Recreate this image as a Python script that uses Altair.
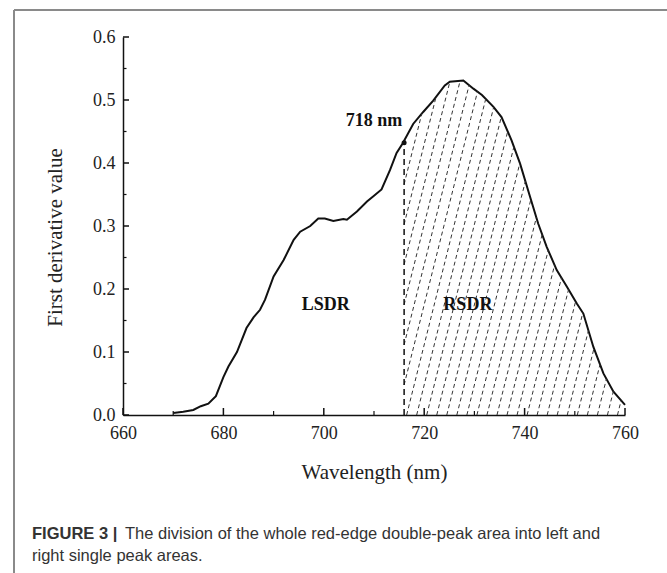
import altair as alt
import numpy as np
import pandas as pd

# ---- data ----
wavelength = [670, 672, 674, 675.5, 677, 678.5, 680, 681, 682.7, 684.6, 686, 687.3, 688.3,
              690, 692, 694, 695.3, 697.3, 698.9, 700.2, 701.9, 703.9, 704.6, 706.6, 708.6,
              710, 711.5, 713.2, 714.5, 715.7, 717.8, 719.8, 721.8, 724.1, 725.1, 727.8,
              729.8, 731.5, 733.8, 735.4, 737.4, 739.1, 741.1, 742.7, 744.4, 746.4, 748.4,
              750.4, 751.7, 753.7, 755.7, 757.7, 760]
derivative = [0.003, 0.005, 0.008, 0.014, 0.018, 0.030, 0.060, 0.077, 0.100, 0.138, 0.155, 0.167, 0.183,
              0.220, 0.246, 0.278, 0.291, 0.300, 0.312, 0.312, 0.308, 0.311, 0.310, 0.323, 0.339,
              0.348, 0.358, 0.389, 0.416, 0.431, 0.462, 0.481, 0.499, 0.523, 0.529, 0.531,
              0.518, 0.508, 0.489, 0.473, 0.436, 0.399, 0.346, 0.304, 0.267, 0.230, 0.204,
              0.177, 0.161, 0.108, 0.066, 0.037, 0.016]

split_nm = 716.0
split_val = 0.432
x_ticks = [660, 680, 700, 720, 740, 760]
x_minor = [670, 690, 710, 730, 750]
y_ticks = [0.0, 0.1, 0.2, 0.3, 0.4, 0.5, 0.6]
y_minor = [0.05, 0.15, 0.25, 0.35, 0.45, 0.55]
labels_txt = ["LSDR", "RSDR"]
labels_x = [700.4, 728.7]
labels_y = [0.175, 0.175]

W, H = 502, 378
PAD_L, PAD_T = 123, 37
SERIF = "Liberation Serif"

curve = pd.DataFrame({"nm": wavelength, "v": derivative})

# hatch segments (decoration) derived from the curve
wl = np.array(wavelength)
dv = np.array(derivative)
k = 31.4  # nm per unit value (slant)
segs = []
for x0 in np.arange(702.5, 760, 2.0):
    if x0 >= split_nm:
        vs = 0.0
    else:
        vs = (split_nm - x0) / k
    grid = np.linspace(vs, 0.6, 2000)
    xs_ = x0 + k * grid
    cv = np.interp(xs_, wl, dv)
    ok = (grid >= cv) | (xs_ >= 760)
    if not ok.any():
        continue
    idx = int(np.argmax(ok))
    if idx == 0:
        continue
    segs.append({"x0": x0 + k * vs, "y0": vs, "x1": xs_[idx], "y1": grid[idx]})
hatch = pd.DataFrame(segs)

xs = alt.Scale(domain=[660, 760], nice=False, zero=False)
ys = alt.Scale(domain=[0, 0.6], nice=False)

AX = alt.Axis(values=x_ticks, title="Wavelength (nm)", labelPadding=9, labelFlush=False,
              labelFont=SERIF, labelFontSize=18, labelColor="#222", labelFontWeight="normal",
              titleFont=SERIF, titleFontSize=21, titleFontWeight="normal",
              titleColor="#222", titleY=57, titleBaseline="middle",
              ticks=False, grid=False, domainColor="#111", domainWidth=1.5)
AY = alt.Axis(values=y_ticks, format=".1f", title="First derivative value",
              labelPadding=8, labelFlush=False, labelFont=SERIF, labelFontSize=18,
              labelColor="#222", labelFontWeight="normal",
              titleFont=SERIF, titleFontSize=21, titleFontWeight="normal",
              titleColor="#222", titleX=-68, titleY=200, titleAngle=270,
              titleBaseline="middle",
              ticks=False, grid=False, domainColor="#111", domainWidth=1.5)


def X(field):
    return alt.X(field, scale=xs, axis=AX)


def Y(field):
    return alt.Y(field, scale=ys, axis=AY)


line = alt.Chart(curve).mark_line(color="#111", strokeWidth=2).encode(
    x=X("nm:Q"), y=Y("v:Q"))

hatch_layer = alt.Chart(hatch).mark_rule(color="#333", strokeWidth=1, strokeDash=[4, 3]).encode(
    x=X("x0:Q"), y=Y("y0:Q"), x2="x1:Q", y2="y1:Q")

vline = alt.Chart(pd.DataFrame({"x": [split_nm], "y": [0.0], "y2": [split_val]})).mark_rule(
    color="#111", strokeWidth=1.5, strokeDash=[6, 4]).encode(
    x=X("x:Q"), y=Y("y:Q"), y2="y2:Q")

dot = alt.Chart(pd.DataFrame({"x": [split_nm], "y": [split_val]})).mark_point(
    filled=True, color="#111", size=25, opacity=1).encode(
    x=X("x:Q"), y=Y("y:Q"))

lbl718 = alt.Chart(pd.DataFrame({"x": [710.0], "y": [0.466], "t": ["718 nm"]})).mark_text(
    font=SERIF, fontSize=18, fontWeight="bold", color="#111").encode(
    x=X("x:Q"), y=Y("y:Q"), text="t:N")

region_lbl = alt.Chart(pd.DataFrame({"x": labels_x, "y": labels_y, "t": labels_txt})).mark_text(
    font=SERIF, fontSize=18, fontWeight="bold", color="#111").encode(
    x=X("x:Q"), y=Y("y:Q"), text="t:N")

# inward ticks
ytick_major = alt.Chart(pd.DataFrame({"y": y_ticks})).mark_rule(color="#111", strokeWidth=1.5).encode(
    y=Y("y:Q"), x=alt.value(0), x2=alt.value(6))
ytick_minor = alt.Chart(pd.DataFrame({"y": y_minor})).mark_rule(color="#111", strokeWidth=1.2).encode(
    y=Y("y:Q"), x=alt.value(0), x2=alt.value(3.5))
xtick_major = alt.Chart(pd.DataFrame({"x": x_ticks})).mark_rule(color="#111", strokeWidth=1.5).encode(
    x=X("x:Q"), y=alt.value(H), y2=alt.value(H - 7))
xtick_minor = alt.Chart(pd.DataFrame({"x": x_minor})).mark_rule(color="#111", strokeWidth=1.2).encode(
    x=X("x:Q"), y=alt.value(H), y2=alt.value(H - 4))

# figure frame (top & left border) and caption
frame_top = alt.Chart(pd.DataFrame({"a": [0]})).mark_rule(color="#8a8a8a", strokeWidth=2).encode(
    x=alt.value(14 - PAD_L), x2=alt.value(667 - PAD_L), y=alt.value(10 - PAD_T))
frame_left = alt.Chart(pd.DataFrame({"a": [0]})).mark_rule(color="#8a8a8a", strokeWidth=2).encode(
    x=alt.value(14 - PAD_L), y=alt.value(10 - PAD_T), y2=alt.value(573 - PAD_T))

cap_bold = alt.Chart(pd.DataFrame({"t": ["FIGURE 3 |"]})).mark_text(
    font="Liberation Sans", fontSize=16.5, fontWeight="bold", color="#333",
    align="left", baseline="alphabetic").encode(
    x=alt.value(32 - PAD_L), y=alt.value(539 - PAD_T), text="t:N")
cap_1 = alt.Chart(pd.DataFrame({"t": ["The division of the whole red-edge double-peak area into left and"]})).mark_text(
    font="Liberation Sans", fontSize=16.5, color="#333", align="left", baseline="alphabetic").encode(
    x=alt.value(125 - PAD_L), y=alt.value(539 - PAD_T), text="t:N")
cap_2 = alt.Chart(pd.DataFrame({"t": ["right single peak areas."]})).mark_text(
    font="Liberation Sans", fontSize=16.5, color="#333", align="left", baseline="alphabetic").encode(
    x=alt.value(32 - PAD_L), y=alt.value(561 - PAD_T), text="t:N")

chart = alt.layer(
    line, hatch_layer, vline, dot, lbl718, region_lbl,
    ytick_major, ytick_minor, xtick_major, xtick_minor,
    frame_top, frame_left, cap_bold, cap_1, cap_2,
).properties(
    width=W, height=H,
    autosize=alt.AutoSizeParams(type="none"),
    padding={"left": PAD_L, "top": PAD_T, "right": 667 - PAD_L - W, "bottom": 573 - PAD_T - H},
    background="white",
).configure_view(stroke=None)

chart.save("out.html", embed_options={"renderer": "svg", "actions": False})
